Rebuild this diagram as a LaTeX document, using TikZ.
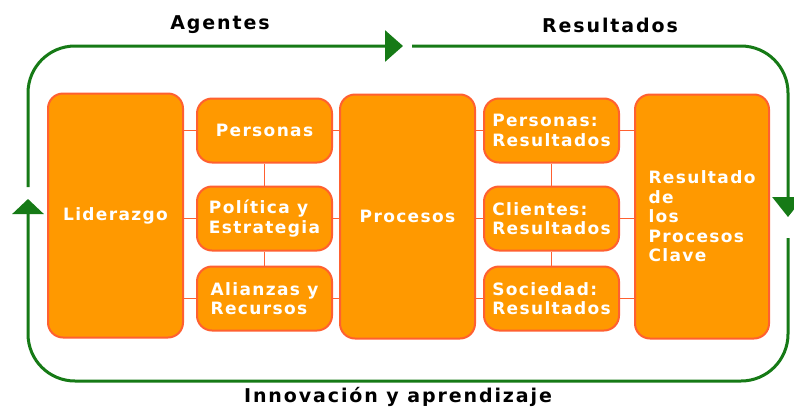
\documentclass[tikz,border=0pt]{standalone}
\usepackage{fontspec}
\setmainfont{DejaVu Sans}
\newfontfamily\boxfont{DejaVu Sans}[LetterSpace=8]
\newfontfamily\titlefont{DejaVu Sans}[LetterSpace=10]
\usetikzlibrary{arrows.meta}
\definecolor{boxfill}{HTML}{FF9900}
\definecolor{boxline}{HTML}{FF6030}
\definecolor{loopgreen}{RGB}{22,122,22}
\tikzset{
  box/.style={draw=boxline, line width=2pt, fill=boxfill, rounded corners=15pt,
    text=white, align=left, inner sep=0pt,
    font=\boxfont\bfseries\fontsize{17}{19.5}\selectfont},
  bigbox/.style={box, minimum width=135pt, minimum height=244pt},
  smallbox/.style={box, minimum width=135pt, minimum height=64pt},
  link/.style={draw=boxline, line width=1.5pt},
  loopline/.style={draw=loopgreen, line width=3pt, rounded corners=47pt},
  title/.style={font=\titlefont\bfseries\fontsize{19}{22}\selectfont, text=black}
}
\begin{document}
\begin{tikzpicture}[x=1pt,y=-1pt]
\useasboundingbox (0,0) rectangle (794,410);
\fill[white] (0,0) rectangle (794,410);

% boxes
\node[bigbox]   (lid)  at (115.5,215.5) {Liderazgo};
\node[smallbox] (per)  at (264.5,130.5) {Personas};
\node[smallbox] (pol)  at (264.5,218.5) {Política y\\Estrategia};
\node[smallbox] (ali)  at (264.5,298.5) {Alianzas y\\Recursos};
\node[bigbox]   (pro)  at (407.5,216.5) {Procesos};
\node[smallbox] (pres) at (551.5,130.5) {Personas:\\Resultados};
\node[smallbox] (cli)  at (551.5,218.5) {Clientes:\\Resultados};
\node[smallbox] (soc)  at (551.5,298.5) {Sociedad:\\Resultados};
\node[bigbox, minimum width=134pt] (rpc) at (702,216.5) {Resultado\\de\\los\\Procesos\\Clave};

% connectors
\draw[link] (per.west) -- (per.west -| lid.east);
\draw[link] (pol.west) -- (pol.west -| lid.east);
\draw[link] (ali.west) -- (ali.west -| lid.east);
\draw[link] (per.east) -- (per.east -| pro.west);
\draw[link] (pol.east) -- (pol.east -| pro.west);
\draw[link] (ali.east) -- (ali.east -| pro.west);
\draw[link] (per.south) -- (pol.north);
\draw[link] (pol.south) -- (ali.north);
\draw[link] (pres.west) -- (pres.west -| pro.east);
\draw[link] (cli.west) -- (cli.west -| pro.east);
\draw[link] (soc.west) -- (soc.west -| pro.east);
\draw[link] (pres.east) -- (pres.east -| rpc.west);
\draw[link] (cli.east) -- (cli.east -| rpc.west);
\draw[link] (soc.east) -- (soc.east -| rpc.west);
\draw[link] (pres.south) -- (cli.north);
\draw[link] (cli.south) -- (soc.north);

% green loop
\coordinate (ltop) at (28,187);
\coordinate (tl) at (28,46);
\coordinate (tarrow) at (403,46);
\coordinate (tresume) at (412,46);
\coordinate (tr) at (788,46);
\coordinate (rarrow) at (788,217);
\coordinate (rresume) at (788,238);
\coordinate (br) at (788,381);
\coordinate (bl) at (28,381);
\coordinate (larrow) at (28,199);

\draw[loopline, -{Triangle[length=18pt,width=31pt]}] (ltop) -- (tl) -- (tarrow);
\draw[loopline, -{Triangle[length=20pt,width=31pt]}] (tresume) -- (tr) -- (rarrow);
\draw[loopline, -{Triangle[length=15pt,width=31pt]}] (rresume) -- (br) -- (bl) -- (larrow);

% labels
\node[title] (agentes) at (220,25) {Agentes};
\node[title] (result) at (610,25) {Resultados};
\node[title] (innov) at (398,397) {Innovación y aprendizaje};
\end{tikzpicture}
\end{document}
